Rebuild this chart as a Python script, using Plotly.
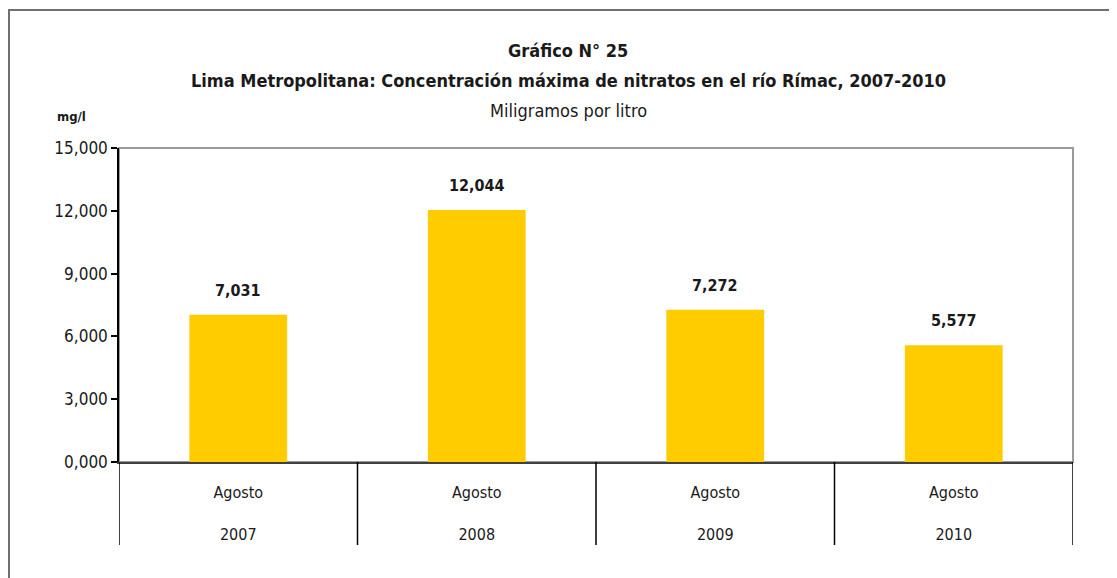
import plotly.graph_objects as go

years = ["2007", "2008", "2009", "2010"]
months = ["Agosto", "Agosto", "Agosto", "Agosto"]
values = [7.031, 12.044, 7.272, 5.577]
y_ticks = [0, 3, 6, 9, 12, 15]

FONT = "DejaVu Sans Condensed, Liberation Sans Narrow, Arial Narrow, sans-serif"
TXT = "#1a1a1a"

# page body adds an 8px offset, so figure coords = screen coords - 8
OFF = 8
W, H = 1117 - OFF, 578 - OFF
L, R, T, B = 119 - OFF, 1073 - OFF, 148 - OFF, 462 - OFF
pw, ph = R - L, B - T


def px_x(x):
    return (x - OFF - L) / pw


def px_y(y):
    return (B - (y - OFF)) / ph


fig = go.Figure()
fig.add_trace(go.Bar(
    x=years, y=values,
    marker=dict(color="#FFCC00", line=dict(width=0)),
    hoverinfo="skip",
))

annotations = []
for i, v in enumerate(values):
    annotations.append(dict(
        x=i, y=v, xref="x", yref="y", text="<b>%s</b>" % f"{v:.3f}".replace(".", ","),
        showarrow=False, xanchor="center", yanchor="bottom", yshift=13,
        font=dict(family=FONT, size=16, color=TXT),
    ))

tc = px_x(568)
annotations += [
    dict(x=tc, y=px_y(50), xref="paper", yref="paper", text="<b>Gráfico N° 25</b>",
         showarrow=False, xanchor="center", yanchor="middle",
         font=dict(family=FONT, size=18, color=TXT)),
    dict(x=tc, y=px_y(81), xref="paper", yref="paper",
         text="<b>Lima Metropolitana: Concentración máxima de nitratos en el río Rímac, 2007-2010</b>",
         showarrow=False, xanchor="center", yanchor="middle",
         font=dict(family=FONT, size=18, color=TXT)),
    dict(x=tc, y=px_y(111), xref="paper", yref="paper", text="Miligramos por litro",
         showarrow=False, xanchor="center", yanchor="middle",
         font=dict(family=FONT, size=18, color=TXT)),
    dict(x=px_x(71), y=px_y(117), xref="paper", yref="paper", text="<b>mg/l</b>",
         showarrow=False, xanchor="center", yanchor="middle",
         font=dict(family=FONT, size=13, color=TXT)),
]

shapes = [
    # outer chart border
    dict(type="rect", xref="paper", yref="paper",
         x0=px_x(9), x1=px_x(1140), y0=px_y(600), y1=px_y(10),
         line=dict(color="#707070", width=2), layer="below"),
    # plot area border
    dict(type="rect", xref="paper", yref="paper", x0=0, x1=1, y0=0, y1=1,
         line=dict(color="#9a9a9a", width=2), layer="below"),
]
for i in range(len(years) + 1):
    shapes.append(dict(type="line", xref="x", yref="paper",
                       x0=i - 0.5, x1=i - 0.5, y0=0, y1=px_y(545),
                       line=dict(color="#000000", width=1.5)))

fig.update_layout(
    width=W, height=H,
    margin=dict(l=L, r=W - R, t=T, b=H - B, pad=0),
    paper_bgcolor="white", plot_bgcolor="white",
    separators=",.",
    showlegend=False,
    bargap=0.59,
    font=dict(family=FONT, size=17, color=TXT),
    annotations=annotations,
    shapes=shapes,
    xaxis=dict(
        type="category", range=[-0.5, 3.5],
        tickvals=years,
        ticktext=[f"{m}<br><br>{y}" for m, y in zip(months, years)],
        showline=True, linecolor="#404040", linewidth=2,
        ticks="", showgrid=False, zeroline=False,
        ticklabelstandoff=15,
        tickfont=dict(family=FONT, size=16, color=TXT),
    ),
    yaxis=dict(
        range=[0, 15], tickvals=y_ticks, tickformat=".3f",
        showline=True, linecolor="#000000", linewidth=1.5,
        ticks="outside", ticklen=6, tickcolor="#000000", tickwidth=1.5,
        showgrid=False, zeroline=False,
        tickfont=dict(family=FONT, size=17, color=TXT),
    ),
)

fig.write_html("out.html")
